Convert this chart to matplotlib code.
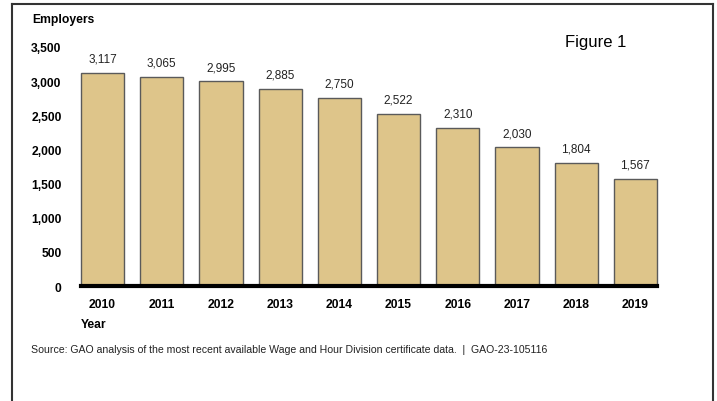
import matplotlib
matplotlib.use("Agg")
import matplotlib.pyplot as plt
from matplotlib.lines import Line2D

years = ["2010", "2011", "2012", "2013", "2014", "2015", "2016", "2017", "2018", "2019"]
employers = [3117, 3065, 2995, 2885, 2750, 2522, 2310, 2030, 1804, 1567]
yticks = [0, 500, 1000, 1500, 2000, 2500, 3000, 3500]

plt.rcParams["font.family"] = ["Liberation Sans", "DejaVu Sans"]

fig = plt.figure(figsize=(7.17, 4.02), dpi=100)
ax = fig.add_axes([81 / 717, 115 / 402, 576 / 717, 239 / 402])

x = range(len(years))
bars = ax.bar(x, employers, width=0.73, color="#DEC58A", edgecolor="#5a5a5a", linewidth=1.0,
              zorder=2, clip_on=False)
ax.axhline(0, color="black", linewidth=3, zorder=3, clip_on=False)

for xi, v in zip(x, employers):
    ax.annotate("{:,}".format(v), (xi, v), xytext=(0, 6), textcoords="offset points",
                ha="center", va="bottom", fontsize=8.5, color="#222222")

ax.set_xlim(-0.365, len(years) - 1 + 0.365)
ax.set_ylim(0, 3500)
ax.set_xticks(list(x))
ax.set_xticklabels(years, fontsize=8.7, fontweight="bold")
ax.set_yticks(yticks)
ax.set_yticklabels(["{:,}".format(t) for t in yticks], fontsize=8.7, fontweight="bold")
ax.tick_params(axis="both", length=0)
ax.tick_params(axis="y", pad=14)
ax.tick_params(axis="x", pad=9)
for s in ax.spines.values():
    s.set_visible(False)

fig.text(32 / 717, 1 - 20 / 402, "Employers", fontsize=8.7, fontweight="bold", va="center", ha="left")
fig.text(81 / 717, 1 - 325 / 402, "Year", fontsize=8.7, fontweight="bold", va="center", ha="left")
fig.text(31 / 717, 1 - 350 / 402,
         "Source: GAO analysis of the most recent available Wage and Hour Division certificate data.  |  GAO-23-105116",
         fontsize=7.6, va="center", ha="left", color="#222222")
fig.text(596 / 717, 1 - 42 / 402, "Figure 1", fontsize=12, va="center", ha="center")

# border box
for xs, ys in [([12, 713], [5, 5]), ([12, 12], [5, 402]), ([713, 713], [5, 402])]:
    fig.add_artist(Line2D([v / 717 for v in xs], [1 - v / 402 for v in ys], color="#333333", linewidth=1.5))

fig.savefig("out.png", dpi=100)
